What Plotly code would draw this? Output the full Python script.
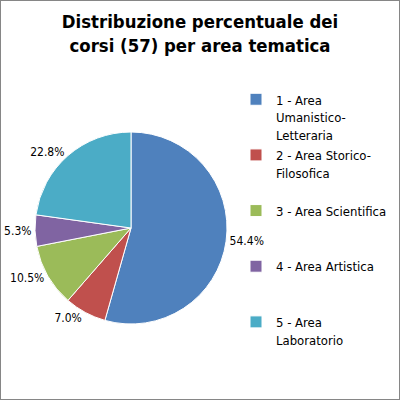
import plotly.graph_objects as go

categories = ["1 - Area Umanistico-Letteraria", "2 - Area Storico-Filosofica",
              "3 - Area Scientifica", "4 - Area Artistica", "5 - Area Laboratorio"]
legend_labels = ["1 - Area<br>Umanistico-<br>Letteraria",
                 "2 - Area Storico-<br>Filosofica<br>&nbsp;",
                 "3 - Area Scientifica<br>&nbsp;<br>&nbsp;",
                 "4 - Area Artistica<br>&nbsp;<br>&nbsp;",
                 "5 - Area<br>Laboratorio<br>&nbsp;"]
counts = [31, 4, 6, 3, 13]
colors = ["#4F81BD", "#C0504D", "#9BBB59", "#8064A2", "#4BACC6"]

FONT = "DejaVu Sans Condensed, DejaVu Sans, sans-serif"

fig = go.Figure(go.Pie(
    labels=[f'<span style="font-size:13px">{l}</span>' for l in legend_labels],
    values=counts,
    sort=False,
    direction="clockwise",
    rotation=0,
    marker=dict(colors=colors, line=dict(color="white", width=1)),
    textinfo="percent",
    texttemplate="%{percent:.1%}",
    textposition="outside",
    textfont=dict(family=FONT, size=12, color="#000000"),
    domain=dict(x=[35/400, 227/400], y=[1-324/400, 1-132/400]),
    automargin=False,
    hoverinfo="label+percent",
))

fig.update_layout(
    width=400, height=400,
    margin=dict(l=0, r=0, t=0, b=0, autoexpand=False),
    paper_bgcolor="white",
    font=dict(family=FONT, color="#000000"),
    title=dict(text="<b>Distribuzione percentuale dei<br>corsi (57) per area tematica</b>",
               x=0.5, xanchor="center", y=1-28/400, yanchor="middle",
               font=dict(family=FONT, size=18.4, color="#000000")),
    legend=dict(x=236/400, y=1-84/400, xanchor="left", yanchor="top",
                valign="top", font=dict(family=FONT, size=13.5, color="#000000"),
                bgcolor="rgba(0,0,0,0)", tracegroupgap=0),
    showlegend=True,
    shapes=[dict(type="rect", xref="paper", yref="paper", x0=0, x1=1, y0=0, y1=1,
                 line=dict(color="#868686", width=2))],
)

fig.write_html("out.html", config={"displayModeBar": False},
               post_script="document.body.style.margin='0px';")
